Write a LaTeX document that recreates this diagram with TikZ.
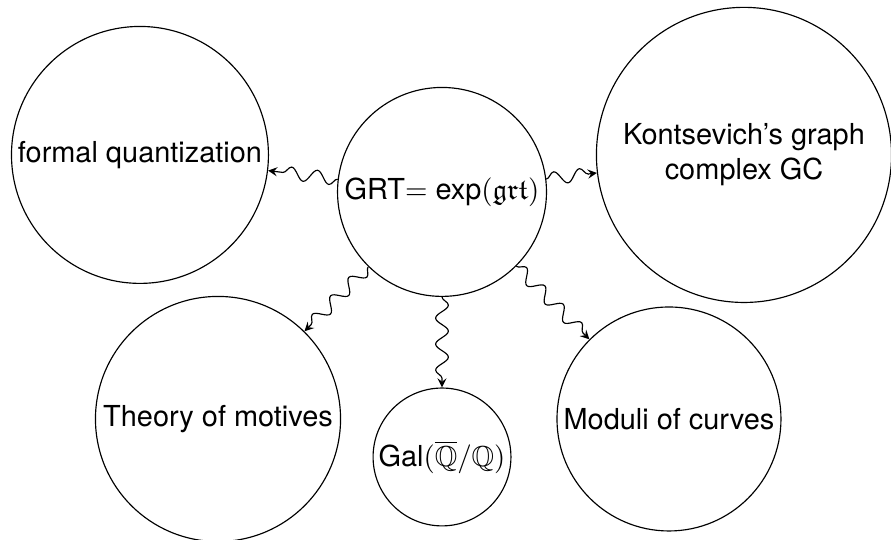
\documentclass[tikz,border=0pt]{standalone}
\usepackage{amssymb}
\usepackage{fontspec}
\setmainfont{TeX Gyre Heros}
\usetikzlibrary{decorations.pathmorphing}
\begin{document}
\begin{tikzpicture}[scale = 1]
\tikzset{bubble/.style = {draw, circle, inner sep = 0pt, align = center},
  wave/.style = {->, >=stealth, decorate,
    decoration = {snake, amplitude = 2.2pt, segment length = 9pt, post length = 2pt}}}

\useasboundingbox (0,0) rectangle (10.835,6.566);

\node [bubble, minimum size = 72.3pt] (grt) at (5.375,4.232) {GRT$=$ exp$(\mathfrak{grt})$};
\node [bubble, minimum size = 88.9pt] (fq) at (1.702,4.682) {formal quantization};
\node [bubble, minimum size = 102.1pt] (gc) at (9.047,4.682) {Kontsevich's graph\\ complex GC};
\node [bubble, minimum size = 84.8pt] (mot) at (2.651,1.471) {Theory of motives};
\node [bubble, minimum size = 47.7pt] (gal) at (5.375,1.009) {Gal$(\overline{\mathbb{Q}}/\mathbb{Q})$};
\node [bubble, minimum size = 77.5pt] (mod) at (8.135,1.471) {Moduli of curves};

\draw [wave] (grt) -- (fq);
\draw [wave] (grt) -- (gc);
\draw [wave] (grt) -- (mot);
\draw [wave] (grt) -- (gal);
\draw [wave] (grt) -- (mod);

\end{tikzpicture}
\end{document}
